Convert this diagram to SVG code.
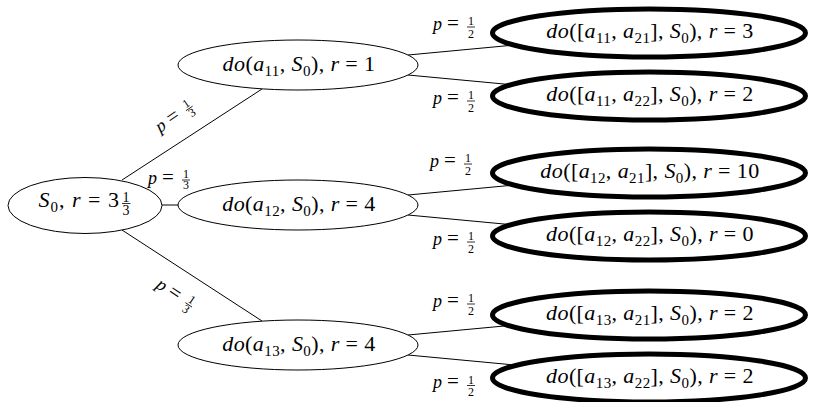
<svg xmlns="http://www.w3.org/2000/svg" width="815" height="402" viewBox="0 0 815 402" font-family="Liberation Serif, serif">
<style>
.t{font-family:Liberation Serif,serif;font-size:22px;letter-spacing:0.4px;fill:#000}
.i{font-style:italic}
.s{font-size:15px}
.lb{font-family:Liberation Serif,serif;font-size:18px;fill:#000}
.eq{font-size:21px}
.fr{font-family:Liberation Serif,serif;font-size:12px;text-anchor:middle;fill:#000}
.bar{stroke:#000;stroke-width:0.8}
.edge{stroke:#000;stroke-width:1;fill:none}
.thin{fill:#fff;stroke:#000;stroke-width:1}
.thick{fill:#fff;stroke:#000;stroke-width:5}
</style>
<defs>
<g id="half">
<text class="lb"><tspan class="i">p</tspan><tspan class="eq" x="14">=</tspan></text>
<text class="fr" x="38" y="-4.5">1</text>
<line class="bar" x1="34" x2="42" y1="-2.5" y2="-2.5"/>
<text class="fr" x="38" y="8">2</text>
</g>
<g id="third">
<text class="lb"><tspan class="i">p</tspan><tspan class="eq" x="14">=</tspan></text>
<text class="fr" x="38" y="-6">1</text>
<line class="bar" x1="34" x2="42" y1="-4" y2="-4"/>
<text class="fr" x="38" y="5">3</text>
</g>
</defs>
<rect width="815" height="402" fill="#fff"/>
<g id="connectors">
<line class="edge" x1="122" y1="180" x2="262" y2="89"/>
<line class="edge" x1="160" y1="205" x2="180" y2="205"/>
<line class="edge" x1="122" y1="230" x2="262" y2="321"/>
<line class="edge" x1="408" y1="55" x2="520" y2="44.5"/>
<line class="edge" x1="408" y1="75" x2="520" y2="85.5"/>
<line class="edge" x1="408" y1="195" x2="520" y2="184.5"/>
<line class="edge" x1="408" y1="215" x2="520" y2="225.5"/>
<line class="edge" x1="408" y1="335" x2="520" y2="324.5"/>
<line class="edge" x1="408" y1="355" x2="520" y2="365.5"/>
<use href="#third" transform="translate(160,133) rotate(-34)"/>
<use href="#third" transform="translate(148,184)"/>
<use href="#third" transform="translate(155,287) rotate(34)"/>
<use href="#half" transform="translate(433,29.5)"/>
<use href="#half" transform="translate(433,103.5)"/>
<use href="#half" transform="translate(430,166.5)"/>
<use href="#half" transform="translate(433,244.5)"/>
<use href="#half" transform="translate(433,306.5)"/>
<use href="#half" transform="translate(433,388)"/>
</g>
<g id="root">
<ellipse class="thin" cx="85" cy="205.5" rx="77" ry="28"/>
<text class="t" x="120" y="207" text-anchor="end" style="letter-spacing:1px"><tspan class="i">S</tspan><tspan class="s" dy="5">0</tspan><tspan dy="-5">, </tspan><tspan class="i">r</tspan> = 3</text>
<text class="fr" x="126" y="201.5" style="font-size:14px">1</text>
<line class="bar" x1="122" x2="130.5" y1="203.5" y2="203.5"/>
<text class="fr" x="126" y="215" style="font-size:14px">3</text>
</g>
<g id="m1">
<ellipse class="thin" cx="298" cy="65" rx="120" ry="25"/>
<text class="t" x="299" y="71" text-anchor="middle"><tspan class="i">do</tspan>(<tspan class="i">a</tspan><tspan class="s" dy="5">11</tspan><tspan dy="-5">, </tspan><tspan class="i">S</tspan><tspan class="s" dy="5">0</tspan><tspan dy="-5">), </tspan><tspan class="i">r</tspan> = 1</text>
</g>
<g id="m2">
<ellipse class="thin" cx="298" cy="205" rx="120" ry="25"/>
<text class="t" x="299" y="211" text-anchor="middle"><tspan class="i">do</tspan>(<tspan class="i">a</tspan><tspan class="s" dy="5">12</tspan><tspan dy="-5">, </tspan><tspan class="i">S</tspan><tspan class="s" dy="5">0</tspan><tspan dy="-5">), </tspan><tspan class="i">r</tspan> = 4</text>
</g>
<g id="m3">
<ellipse class="thin" cx="298" cy="345" rx="120" ry="25"/>
<text class="t" x="299" y="351" text-anchor="middle"><tspan class="i">do</tspan>(<tspan class="i">a</tspan><tspan class="s" dy="5">13</tspan><tspan dy="-5">, </tspan><tspan class="i">S</tspan><tspan class="s" dy="5">0</tspan><tspan dy="-5">), </tspan><tspan class="i">r</tspan> = 4</text>
</g>
<g id="t1">
<ellipse class="thick" cx="649" cy="33" rx="156.5" ry="24"/>
<text class="t" x="650" y="38" text-anchor="middle"><tspan class="i">do</tspan>([<tspan class="i">a</tspan><tspan class="s" dy="5">11</tspan><tspan dy="-5">, </tspan><tspan class="i">a</tspan><tspan class="s" dy="5">21</tspan><tspan dy="-5">], </tspan><tspan class="i">S</tspan><tspan class="s" dy="5">0</tspan><tspan dy="-5">), </tspan><tspan class="i">r</tspan> = 3</text>
</g>
<g id="t2">
<ellipse class="thick" cx="649" cy="96" rx="156.5" ry="24"/>
<text class="t" x="650" y="101" text-anchor="middle"><tspan class="i">do</tspan>([<tspan class="i">a</tspan><tspan class="s" dy="5">11</tspan><tspan dy="-5">, </tspan><tspan class="i">a</tspan><tspan class="s" dy="5">22</tspan><tspan dy="-5">], </tspan><tspan class="i">S</tspan><tspan class="s" dy="5">0</tspan><tspan dy="-5">), </tspan><tspan class="i">r</tspan> = 2</text>
</g>
<g id="t3">
<ellipse class="thick" cx="649" cy="173" rx="156.5" ry="24"/>
<text class="t" x="650" y="178" text-anchor="middle"><tspan class="i">do</tspan>([<tspan class="i">a</tspan><tspan class="s" dy="5">12</tspan><tspan dy="-5">, </tspan><tspan class="i">a</tspan><tspan class="s" dy="5">21</tspan><tspan dy="-5">], </tspan><tspan class="i">S</tspan><tspan class="s" dy="5">0</tspan><tspan dy="-5">), </tspan><tspan class="i">r</tspan> = 10</text>
</g>
<g id="t4">
<ellipse class="thick" cx="649" cy="236" rx="156.5" ry="24"/>
<text class="t" x="650" y="241" text-anchor="middle"><tspan class="i">do</tspan>([<tspan class="i">a</tspan><tspan class="s" dy="5">12</tspan><tspan dy="-5">, </tspan><tspan class="i">a</tspan><tspan class="s" dy="5">22</tspan><tspan dy="-5">], </tspan><tspan class="i">S</tspan><tspan class="s" dy="5">0</tspan><tspan dy="-5">), </tspan><tspan class="i">r</tspan> = 0</text>
</g>
<g id="t5">
<ellipse class="thick" cx="649" cy="315" rx="156.5" ry="24"/>
<text class="t" x="650" y="320" text-anchor="middle"><tspan class="i">do</tspan>([<tspan class="i">a</tspan><tspan class="s" dy="5">13</tspan><tspan dy="-5">, </tspan><tspan class="i">a</tspan><tspan class="s" dy="5">21</tspan><tspan dy="-5">], </tspan><tspan class="i">S</tspan><tspan class="s" dy="5">0</tspan><tspan dy="-5">), </tspan><tspan class="i">r</tspan> = 2</text>
</g>
<g id="t6">
<ellipse class="thick" cx="649" cy="378" rx="156.5" ry="24"/>
<text class="t" x="650" y="383" text-anchor="middle"><tspan class="i">do</tspan>([<tspan class="i">a</tspan><tspan class="s" dy="5">13</tspan><tspan dy="-5">, </tspan><tspan class="i">a</tspan><tspan class="s" dy="5">22</tspan><tspan dy="-5">], </tspan><tspan class="i">S</tspan><tspan class="s" dy="5">0</tspan><tspan dy="-5">), </tspan><tspan class="i">r</tspan> = 2</text>
</g>
</svg>
